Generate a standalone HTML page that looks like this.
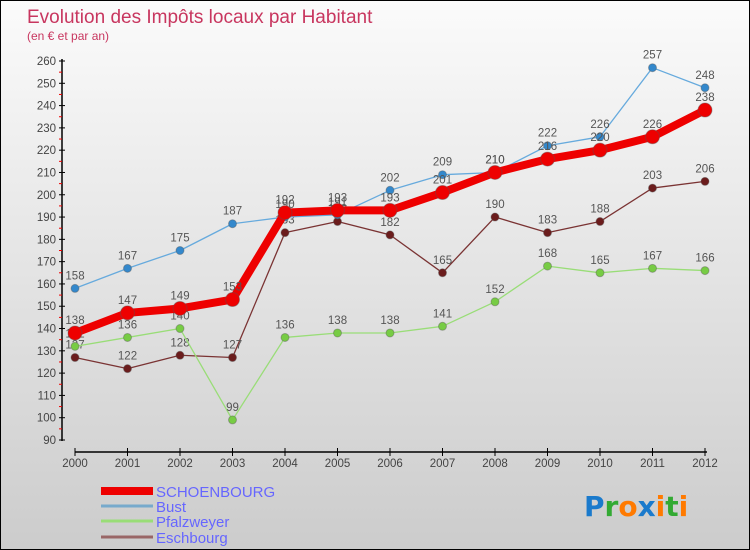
<!DOCTYPE html>
<html><head><meta charset="utf-8"><style>
body{margin:0}
#wrap{position:relative;width:748px;height:548px;border:1px solid #000;background:linear-gradient(#fbfbfb,#cccccc);font-family:"Liberation Sans",sans-serif;overflow:hidden}
</style></head><body>
<div id="wrap">
<svg id="chart" width="748" height="548" style="position:absolute;left:0;top:0"></svg>
</div>
<script>
const years=["2000","2001","2002","2003","2004","2005","2006","2007","2008","2009","2010","2011","2012"];
const schoenbourg=[138,147,149,153,192,193,193,201,210,216,220,226,238];
const bust=[158,167,175,187,190,191,202,209,210,222,226,257,248];
const pfalzweyer=[132,136,140,99,136,138,138,141,152,168,165,167,166];
const eschbourg=[127,122,128,127,183,188,182,165,190,183,188,203,206];
const yTicks=[90,100,110,120,130,140,150,160,170,180,190,200,210,220,230,240,250,260];
const NS="http://www.w3.org/2000/svg";
const svg=document.getElementById('chart');
function X(i){return 74+i*52.5;}
function Y(v){return 439-(v-90)*(379/170);}
function mk(t,a,p){const e=document.createElementNS(NS,t);for(const k in a)e.setAttribute(k,a[k]);(p||svg).appendChild(e);return e;}
function txt(x,y,s,a){const e=mk('text',Object.assign({x:x,y:y},a));e.textContent=s;return e;}
let t=txt(26,22,"Evolution des Impôts locaux par Habitant",{fill:"#c8365f","font-size":"19"});

t=txt(26,39,"(en € et par an)",{fill:"#c8365f","font-size":"12"});

// axes
let ax=mk('line',{x1:61,y1:58,x2:61,y2:440,stroke:"#000","stroke-width":1.5});

yTicks.forEach(v=>{
 mk('line',{x1:58,y1:Y(v),x2:64,y2:Y(v),stroke:"#000"});
 if(v<260) mk('line',{x1:58,y1:Y(v+5),x2:61,y2:Y(v+5),stroke:"#e00"});
 const l=txt(55,Y(v)+4,String(v),{fill:"#444","font-size":"11.5","text-anchor":"end"});
 
});
ax=mk('line',{x1:74,y1:451,x2:706,y2:451,stroke:"#000","stroke-width":1.5});

years.forEach((y,i)=>{
 mk('line',{x1:X(i),y1:447,x2:X(i),y2:455,stroke:"#000"});
 const l=txt(X(i),466,y,{fill:"#444","font-size":"11.5","text-anchor":"middle"});
 
});
function series(data,color,w,r,name,dot){
 const g=mk('g',{});
 
 mk('polyline',{points:data.map((v,i)=>X(i)+","+Y(v)).join(" "),fill:"none",stroke:color,"stroke-width":w,"stroke-linejoin":"round"},g);
 data.forEach((v,i)=>{
  const c=mk('circle',{cx:X(i),cy:Y(v),r:r,fill:dot,stroke:"#555","stroke-opacity":0.4},g);
  
  const l=txt(X(i),Y(v)-9,String(v),{fill:"#555","font-size":"11.5","text-anchor":"middle"},g);
  
 });
}
series(eschbourg,"#7a3333",1.3,4,"eschbourg","#6b1c1c");
series(pfalzweyer,"#99dd77",1.3,4,"pfalzweyer","#77cc44");
series(bust,"#66aadd",1.3,4,"bust","#3388cc");
series(schoenbourg,"#ee0000",8,7,"schoenbourg","#ee0000");
// legend
const leg=[["SCHOENBOURG","#ee0000",8,491],["Bust","#77aacc",3,506],["Pfalzweyer","#99dd77",3,521],["Eschbourg","#996666",3,537]];
leg.forEach(l=>{
 const g=mk('g',{});
 mk('line',{x1:100,y1:l[3]-1,x2:152,y2:l[3]-1,stroke:l[1],"stroke-width":l[2]},g);
 txt(155,l[3]+5,l[0],{fill:"#6666ff","font-size":"15"},g);
});
// logo
const lg=mk('text',{x:583,y:515,"font-size":"28","font-family":"DejaVu Sans, sans-serif","font-weight":"bold"});

[["P","#1a7acc"],["r","#33aa33"],["o","#ff7a00"],["x","#1a7acc"],["i","#ff7a00"],["t","#33aa33"],["i","#ff7a00"]].forEach(p=>{const s=mk('tspan',{fill:p[1]},lg);s.textContent=p[0];});
</script>
</body></html>
